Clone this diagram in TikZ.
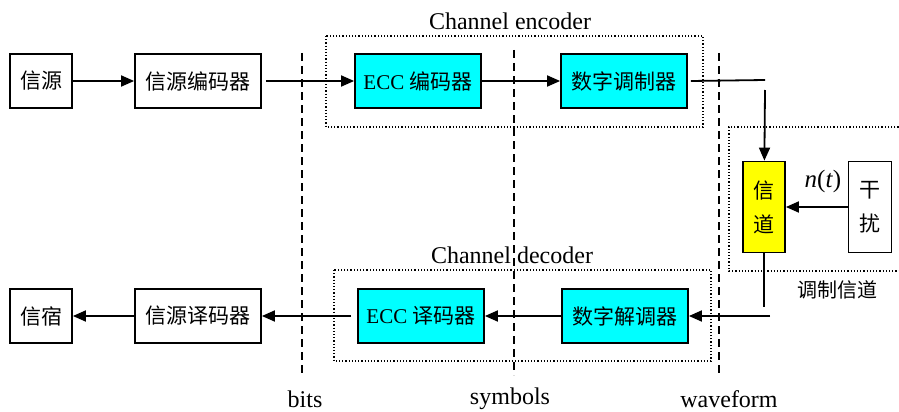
\documentclass[tikz,border=0pt]{standalone}
\usepackage{fontspec}
\setmainfont{Liberation Serif}
\newfontfamily\cjk{Noto Sans CJK SC}
\usetikzlibrary{arrows.meta}
\definecolor{ecccyan}{RGB}{0,255,255}
\definecolor{chanyellow}{RGB}{255,255,0}
\tikzstyle{block} = [rectangle, draw, line width=1.8pt, minimum height=54pt,
    inner sep=0pt, font=\fontsize{21}{25}\selectfont]
\tikzstyle{eccblock} = [block, fill=ecccyan, minimum width=126pt]
\tikzstyle{line} = [draw, line width=1.8pt, -{Triangle[length=13pt,width=11pt]}]
\tikzstyle{wire} = [draw, line width=1.8pt]
\tikzstyle{group} = [draw, dotted, line width=1.2pt]
\tikzstyle{divider} = [draw, dash pattern=on 8pt off 5pt, line width=1.6pt]
\tikzstyle{tag} = [font=\fontsize{24}{28}\selectfont]

\begin{document}
\begin{tikzpicture}[x=1pt, y=-1pt, node distance=157pt]
    \useasboundingbox (0,0) rectangle (899,412);
    % Place nodes
    \node [block, minimum width=62pt] (src) at (41,81) {\cjk 信源};
    \node [block, minimum width=126pt, right of=src] (srcenc) {\cjk 信源编码器};
    \node [eccblock, right of=srcenc, node distance=220pt] (eccenc) {ECC {\cjk 编码器}};
    \node [eccblock, right of=eccenc, node distance=206pt] (mod) {\cjk 数字调制器};
    \node [block, fill=chanyellow, minimum width=42pt, minimum height=91pt, align=center,
        font=\fontsize{21}{34}\selectfont] (chan) at (764,207) {\cjk 信\\\cjk 道};
    \node [block, minimum width=43pt, minimum height=91pt, align=center,
        font=\fontsize{21}{34}\selectfont, right of=chan, node distance=106pt] (noise) {\cjk 干\\\cjk 扰};
    \node [block, minimum width=62pt] (sink) at (41,316) {\cjk 信宿};
    \node [block, minimum width=126pt, right of=sink] (srcdec) {\cjk 信源译码器};
    \node [eccblock, right of=srcdec, node distance=223pt] (eccdec) {ECC {\cjk 译码器}};
    \node [eccblock, right of=eccdec, node distance=204pt] (demod) {\cjk 数字解调器};
    % Groups and dividers
    \draw [group] (326,36) rectangle (703,127);
    \draw [group] (334,270) rectangle (711,361);
    \draw [group] (905,127) -- (729,127) -- (729,271) -- (905,271);
    \node [tag] (enclbl) at (510,21) {Channel encoder};
    \node [tag] (declbl) at (512,255) {Channel decoder};
    \node [font=\fontsize{20}{24}\selectfont] (chanlbl) at (837,290) {\cjk 调制信道};
    \node [font=\fontsize{25}{28}\selectfont] (nt) at (823,181) {\textit{n}(\textit{t})};
    \path [divider] (302,53) -- (302,375);
    \path [divider] (514,50) -- (514,375);
    \path [divider] (719,53) -- (719,375);
    \node [tag] (bits) at (305,399) {bits};
    \node [tag] (symbols) at (510,399) {symbols};
    \node [tag] (waveform) at (729,399) {waveform};
    % Draw edges
    \coordinate (txa) at (765,80);
    \coordinate (txb) at (765,90);
    \coordinate (rxa) at (764,307);
    \coordinate (rxb) at (770,316);
    \path [line] (src) -- (srcenc);
    \path [line] ([xshift=4pt]srcenc.east) -- (eccenc);
    \path [line] (eccenc) -- (mod);
    \path [wire] ([xshift=3pt]mod.east) -- (txa);
    \path [line] (txb) -- (chan);
    \path [line] (noise) -- (chan);
    \path [wire] (chan) -- (rxa);
    \path [line] (rxb) -- (demod);
    \path [line] (demod) -- (eccdec);
    \path [line] ([xshift=-6pt]eccdec.west) -- (srcdec);
    \path [line] (srcdec) -- (sink);
\end{tikzpicture}
\end{document}
